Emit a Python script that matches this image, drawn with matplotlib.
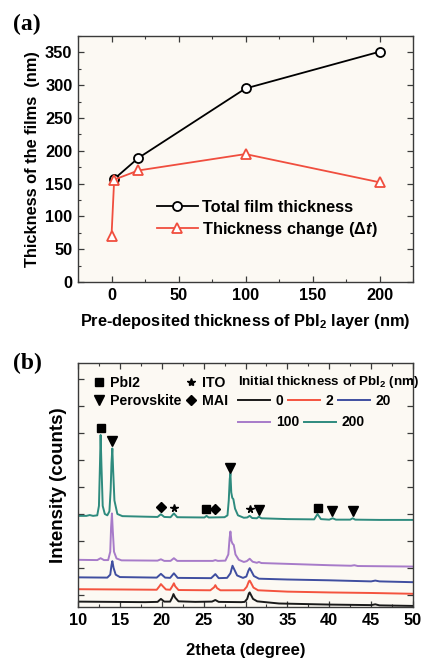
import matplotlib
matplotlib.use("Agg")
import matplotlib.pyplot as plt
from matplotlib.lines import Line2D
from matplotlib.ticker import MultipleLocator, NullFormatter

# ---------------- data: panel (a) ----------------
total_x = [2, 20, 100, 200]
total_thick = [157, 189, 295, 351]
delta_x = [0, 2, 20, 100, 200]
delta_thick = [70, 156, 170, 195, 152]

# ---------------- data: panel (b) XRD traces (arbitrary units) ----------------
x_0 = [10, 14, 18, 19.5, 19.9, 20.3, 21.0, 21.25, 21.4, 21.6, 22.0, 24, 26.0, 26.4, 26.8, 29.5,
       29.9, 30.2, 30.4, 30.5, 30.65, 30.9, 31.4, 34, 40, 45.0, 45.5, 46.0, 50]
y_0 = [-0.25, -0.26, -0.27, -0.26, -0.15, -0.25, -0.25, -0.1, 0.03, -0.1, -0.24, -0.26, -0.25, -0.19, -0.26, -0.27,
       -0.26, -0.15, 0.05, 0.09, 0.0, -0.15, -0.24, -0.32, -0.36, -0.38, -0.35, -0.39, -0.41]

x_2 = [10, 15, 19.4, 19.75, 19.9, 20.1, 20.5, 21.0, 21.3, 21.45, 21.6, 22.0, 25.8, 26.25, 26.4, 26.6, 27.0,
       29.8, 30.15, 30.4, 30.5, 30.65, 30.95, 31.5, 35, 40, 45, 50]
y_2 = [0.21, 0.2, 0.19, 0.33, 0.40, 0.33, 0.2, 0.19, 0.34, 0.43, 0.32, 0.18, 0.17, 0.28, 0.36, 0.25, 0.17,
       0.17, 0.3, 0.5, 0.53, 0.45, 0.27, 0.17, 0.12, 0.09, 0.07, 0.04]

x_20 = [10, 13.5, 13.85, 14.0, 14.1, 14.25, 14.5, 15.0, 19.4, 19.9, 20.4, 21.0, 21.45, 21.9, 25.9, 26.4, 26.8,
        27.8, 28.2, 28.45, 28.65, 29.0, 29.7, 30.1, 30.35, 30.5, 30.7, 31.0, 31.6, 35, 40, 45, 45.5, 46, 50]
y_20 = [0.65, 0.64, 0.75, 1.1, 1.25, 1.0, 0.75, 0.66, 0.64, 0.78, 0.64, 0.63, 0.80, 0.63, 0.62, 0.77, 0.62,
        0.63, 0.8, 1.08, 0.95, 0.72, 0.63, 0.68, 0.9, 0.99, 0.88, 0.7, 0.6, 0.57, 0.54, 0.5, 0.53, 0.5, 0.47]

x_100 = [10, 12.3, 12.7, 13.1, 13.6, 13.85, 13.95, 14.05, 14.15, 14.3, 14.6, 15.2, 19.5, 19.9, 20.3, 21.05,
         21.45, 21.85, 26.1, 26.4, 26.7, 27.6, 27.95, 28.1, 28.2, 28.32, 28.45, 28.6, 28.8, 29.2, 29.8, 30.15,
         30.5, 30.85, 31.35, 31.6, 31.9, 35, 40, 42.6, 43.0, 43.4, 50]
y_100 = [1.30, 1.29, 1.36, 1.29, 1.29, 1.6, 2.5, 3.02, 2.4, 1.6, 1.35, 1.28, 1.27, 1.32, 1.26, 1.26,
         1.36, 1.26, 1.26, 1.29, 1.26, 1.27, 1.5, 2.1, 2.35, 2.0, 1.9, 1.85, 1.5, 1.3, 1.22, 1.25,
         1.34, 1.23, 1.19, 1.22, 1.18, 1.15, 1.1, 1.08, 1.1, 1.07, 1.05]

x_200 = [10, 11.0, 11.4, 11.8, 12.3, 12.5, 12.62, 12.7, 12.8, 12.95, 13.2, 13.5, 13.75, 13.9, 14.0, 14.1,
         14.2, 14.35, 14.7, 15.3, 18, 19.5, 19.9, 20.3, 21.05, 21.45, 21.85, 25.1, 25.35, 25.6, 27.5, 27.85,
         28.0, 28.12, 28.2, 28.3, 28.42, 28.55, 28.75, 29.1, 29.8, 30.2, 30.5, 30.8, 31.35, 31.6, 31.9, 35,
         38.2, 38.6, 39.0, 40.0, 40.4, 40.8, 42.5, 42.8, 43.1, 46, 50]
y_200 = [2.93, 2.93, 2.96, 2.93, 2.95, 3.3, 4.8, 5.93, 4.8, 3.3, 3.0, 2.95, 3.1, 3.9, 4.9, 5.43,
         4.6, 3.5, 3.0, 2.92, 2.90, 2.89, 2.99, 2.89, 2.88, 3.02, 2.88, 2.87, 2.93, 2.87, 2.88, 2.95,
         3.5, 4.3, 4.5, 3.8, 3.6, 3.55, 3.2, 2.95, 2.86, 2.87, 2.93, 2.85, 2.84, 2.9, 2.84, 2.81,
         2.80, 3.0, 2.81, 2.79, 2.84, 2.79, 2.79, 2.84, 2.79, 2.78, 2.78]

trace_labels = ["0", "2", "20", "100", "200"]

# phase markers (positions)
pbi2_x, pbi2_y = [12.7, 25.3, 38.6], [6.19, 3.17, 3.21]
perov_x, perov_y = [14.1, 28.2, 31.6, 40.3, 42.8], [5.70, 4.69, 3.15, 3.12, 3.12]
ito_x, ito_y = [21.45, 30.5], [3.21, 3.17]
mai_x, mai_y = [19.9, 26.4], [3.25, 3.17]

# ---------------- style ----------------
plt.rcParams['font.family'] = ['Liberation Sans', 'DejaVu Sans']
plt.rcParams['font.weight'] = 'bold'
plt.rcParams['mathtext.fontset'] = 'custom'
plt.rcParams['mathtext.rm'] = 'Liberation Sans:bold'
plt.rcParams['mathtext.it'] = 'Liberation Sans:bold:italic'
plt.rcParams['mathtext.bf'] = 'Liberation Sans:bold'

BG = '#fcf9f3'
SPINE = '#3a3a3a'
trace_colors = ['#1a1a1a', '#f4533f', '#3f4ea0', '#a77bc9', '#2e8b7e']

fig = plt.figure(figsize=(4.24, 6.58), dpi=100)

def style_axes(ax, ts):
    ax.set_facecolor(BG)
    for s in ax.spines.values():
        s.set_color(SPINE)
        s.set_linewidth(1.0)
    ax.tick_params(which='both', direction='in', top=True, right=True, color=SPINE)
    ax.tick_params(which='major', length=4, width=0.9, labelsize=ts, pad=4)
    ax.tick_params(which='minor', length=2.5, width=0.8)

# ---------------- panel (a) ----------------
ax1 = fig.add_axes([78/424, 1-282/658, 335/424, 246/658])
style_axes(ax1, 11.8)
ax1.plot(total_x, total_thick, color='black', lw=1.3, marker='o', ms=6.5,
         mfc='white', mec='black', mew=1.3, label='Total film thickness')
ax1.plot(delta_x, delta_thick, color='#f04e3e', lw=1.3, marker='^', ms=7.5,
         mfc='white', mec='#f04e3e', mew=1.3, label='Thickness change (Δ$\\mathit{t}$)')
ax1.set_xlim(-25, 225)
ax1.set_ylim(0, 375)
ax1.xaxis.set_major_locator(MultipleLocator(50))
ax1.xaxis.set_minor_locator(MultipleLocator(25))
ax1.yaxis.set_major_locator(MultipleLocator(50))
ax1.yaxis.set_minor_locator(MultipleLocator(25))
ax1.set_xlabel('Pre-deposited thickness of PbI$_2$ layer (nm)', fontsize=11.8, fontweight='bold', labelpad=7)
ax1.set_ylabel('Thickness of the films  (nm)', fontsize=11.8, fontweight='bold', labelpad=4)
ax1.legend(loc='upper left', bbox_to_anchor=(0.235, 0.335), frameon=False, fontsize=11.8,
           handlelength=2.5, handletextpad=0.25, labelspacing=0.3, borderpad=0, borderaxespad=0)
fig.text(13/424, 1-24/658, '(a)', family='Liberation Serif', fontweight='bold', fontsize=17, va='center')

# ---------------- panel (b) ----------------
ax2 = fig.add_axes([78/424, 1-607/658, 335/424, 244/658])
style_axes(ax2, 11.8)
xs = [x_0, x_2, x_20, x_100, x_200]
ys = [y_0, y_2, y_20, y_100, y_200]
lines = []
for xv, yv, c, lab in zip(xs, ys, trace_colors, trace_labels):
    ln, = ax2.plot(xv, yv, color=c, lw=1.4, label=lab)
    lines.append(ln)

mk = dict(color='black', ls='none')
ax2.plot(pbi2_x, pbi2_y, marker='s', ms=6, **mk)
ax2.plot(perov_x, perov_y, marker='v', ms=6.5, **mk)
ax2.plot(ito_x, ito_y, marker='*', ms=5.5, **mk)
ax2.plot(mai_x, mai_y, marker='D', ms=5, **mk)

ax2.set_xlim(10, 50)
ax2.set_ylim(-0.45, 8.6)
ax2.xaxis.set_major_locator(MultipleLocator(5))
ax2.xaxis.set_minor_locator(MultipleLocator(2.5))
ax2.yaxis.set_major_locator(MultipleLocator(1))
ax2.yaxis.set_major_formatter(NullFormatter())
ax2.set_xlabel('2theta (degree)', fontsize=12, fontweight='bold', labelpad=11)
ax2.set_ylabel('Intensity (counts)', fontsize=13.5, fontweight='bold', labelpad=4)

# phase symbol legend
ph = [Line2D([], [], marker='s', ms=6, **mk), Line2D([], [], marker='v', ms=6.5, **mk),
      Line2D([], [], marker='*', ms=6, **mk), Line2D([], [], marker='D', ms=5, **mk)]
leg_ph = ax2.legend(ph, ['PbI2', 'Perovskite', 'ITO', 'MAI'], ncol=2, loc='upper left',
                    bbox_to_anchor=(0.045, 0.945), frameon=False, fontsize=10.2,
                    handlelength=0.9, handletextpad=0.3, columnspacing=0.25, labelspacing=0.25,
                    borderpad=0, borderaxespad=0)
ax2.add_artist(leg_ph)

leg1 = ax2.legend([lines[0], lines[1], lines[2]], trace_labels[:3], ncol=3, loc='upper left',
                  bbox_to_anchor=(0.478, 0.955), frameon=False, fontsize=10,
                  title='Initial thickness of PbI$_2$ (nm)', title_fontproperties={'size': 9.6, 'weight': 'bold'},
                  alignment='left', handlelength=2.3, handletextpad=0.4, columnspacing=0.35,
                  labelspacing=0.3, borderpad=0, borderaxespad=0)
ax2.add_artist(leg1)
ax2.legend([lines[3], lines[4]], trace_labels[3:], ncol=2, loc='upper left',
           bbox_to_anchor=(0.478, 0.785), frameon=False, fontsize=10,
           handlelength=2.3, handletextpad=0.4, columnspacing=0.35,
           borderpad=0, borderaxespad=0)

fig.text(13/424, 1-363/658, '(b)', family='Liberation Serif', fontweight='bold', fontsize=17, va='center')

fig.savefig('out.png', dpi=100, facecolor='white')
